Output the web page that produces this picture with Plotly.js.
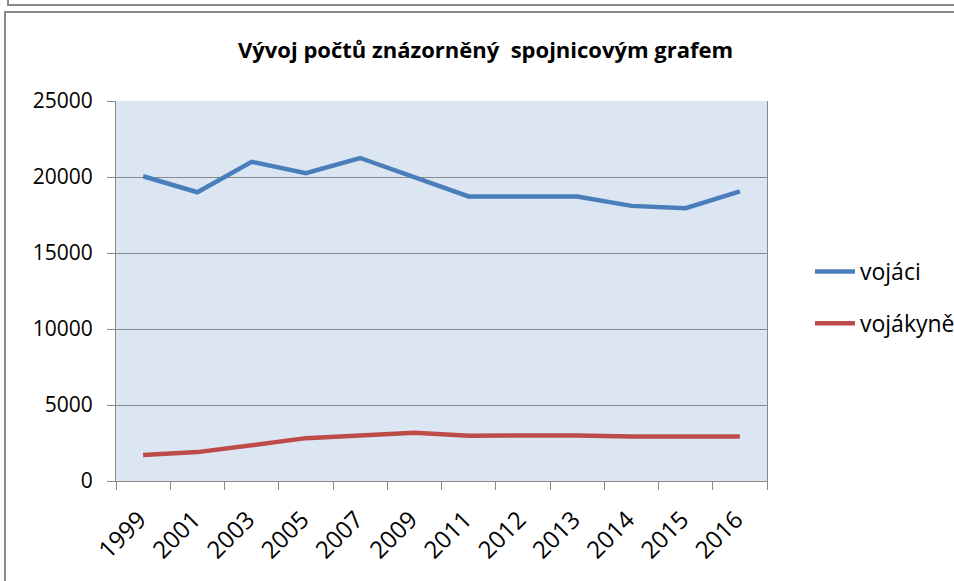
<!DOCTYPE html>
<html>
<head>
<meta charset="utf-8">
<script src="https://cdn.plot.ly/plotly-3.0.1.min.js"></script>
<style>
  html, body { margin:0; padding:0; background:#fff; }
  #wrap { position:relative; width:954px; height:581px; overflow:hidden; }
  #chart { position:absolute; left:0; top:0; width:954px; height:581px; }
  .frame { position:absolute; pointer-events:none; border-color:#8a8a8a; border-style:solid; }
</style>
</head>
<body>
<div id="wrap">
  <div id="chart"></div>
  <div class="frame" style="left:7px; top:-10px; width:960px; height:14px; border-width:0 0 2px 2px;"></div>
  <div class="frame" style="left:4px; top:11px; width:960px; height:600px; border-width:2px 0 0 2px;"></div>
</div>
<script>
const years = ['1999','2001','2003','2005','2007','2009','2011','2012','2013','2014','2015','2016'];
const vojaci = [20050, 19000, 21000, 20250, 21250, 20000, 18720, 18720, 18720, 18100, 17950, 19050];
const vojakyne = [1710, 1900, 2350, 2820, 3000, 3170, 2980, 2990, 3000, 2920, 2920, 2920];
const seriesNames = ['vojáci', 'vojákyně'];
const titleText = 'Vývoj počtů znázorněný  spojnicovým grafem';

const font = '"Open Sans", Lato, sans-serif';

const traces = [
  { x: years, y: vojaci, name: seriesNames[0], type: 'scatter', mode: 'lines',
    line: { color: '#4a7ebb', width: 4.5 }, legendgroup: 'a' },
  { x: years, y: vojakyne, name: seriesNames[1], type: 'scatter', mode: 'lines',
    line: { color: '#be4b48', width: 4.5 }, legendgroup: 'b' }
];

const layout = {
  width: 954, height: 581,
  margin: { l: 116, r: 187, t: 101, b: 100, autoexpand: false },
  paper_bgcolor: '#ffffff',
  plot_bgcolor: '#dce6f2',
  font: { family: font, color: '#000', size: 21 },
  title: { text: '<b>' + titleText + '</b>', font: { family: font, size: 22, color: '#000' },
           x: 0.509, xref: 'container', xanchor: 'center', y: 1 - 50/581, yref: 'container', yanchor: 'middle' },
  xaxis: {
    type: 'category', range: [-0.5, 11.5], automargin: false,
    tickson: 'boundaries', ticks: 'outside', ticklen: 8, tickcolor: '#8a8a8a', tickwidth: 1,
    showline: true, linecolor: '#8a8a8a', linewidth: 1,
    showgrid: false, tickangle: -45, tickfont: { family: font, size: 24, color: '#000' },
    ticklabelstandoff: 14, ticklabelshift: -4,
    fixedrange: true
  },
  yaxis: {
    range: [0, 25000], dtick: 5000, tick0: 0, tickformat: 'd', automargin: false,
    ticks: 'outside', ticklen: 8, tickcolor: '#8a8a8a',
    showline: true, linecolor: '#8a8a8a', linewidth: 1, mirror: true,
    showgrid: true, gridcolor: '#8a8a8a', gridwidth: 1, zeroline: false,
    tickfont: { family: font, size: 21, color: '#000' }, ticklabelstandoff: 10,
    fixedrange: true
  },
  showlegend: true,
  legend: {
    x: 1.066, xanchor: 'left', y: (481-250)/380, yanchor: 'top',
    bgcolor: 'rgba(0,0,0,0)', font: { family: font, size: 23, color: '#000' },
    tracegroupgap: 19, itemwidth: 40
  }
};

Plotly.newPlot('chart', traces, layout, { displayModeBar: false, staticPlot: true });
</script>
</body>
</html>
